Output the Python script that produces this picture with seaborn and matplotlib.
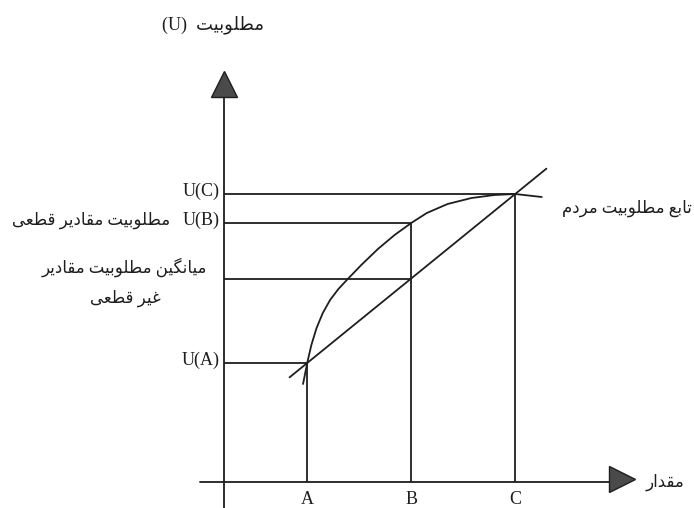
import matplotlib
matplotlib.use("Agg")
import matplotlib.pyplot as plt
import seaborn as sns

# --- data (quantity on x, utility on y) ---
points_x = [0.8, 1.8, 2.8]          # A, B, C
points_u = [1.19, 2.59, 2.88]       # U(A), U(B), U(C)
point_labels = ["A", "B", "C"]
u_labels = ["U(A)", "U(B)", "U(C)"]

# utility function
curve_x = [0.76, 0.80, 0.84, 0.89, 0.95, 1.02, 1.10, 1.19, 1.32, 1.48,
           1.64, 1.80, 1.95, 2.15, 2.38, 2.60, 2.80, 3.055]
curve_u = [0.98, 1.19, 1.37, 1.54, 1.69, 1.82, 1.93, 2.03, 2.17, 2.33,
           2.47, 2.59, 2.69, 2.78, 2.84, 2.87, 2.88, 2.85]

# straight chord between A and C, extended a bit on each side
chord_x = [0.63, 3.10]

axis_x_end = 3.73
axis_y_end = 3.86


# --- tiny Persian shaper (matplotlib has no complex text layout) ---
FORMS = {
    "ا": ("\uFE8D", "\uFE8E"),
    "د": ("\uFEA9", "\uFEAA"),
    "ر": ("\uFEAD", "\uFEAE"),
    "و": ("\uFEED", "\uFEEE"),
    "ب": ("\uFE8F", "\uFE90", "\uFE91", "\uFE92"),
    "ت": ("\uFE95", "\uFE96", "\uFE97", "\uFE98"),
    "ط": ("\uFEC1", "\uFEC2", "\uFEC3", "\uFEC4"),
    "ع": ("\uFEC9", "\uFECA", "\uFECB", "\uFECC"),
    "غ": ("\uFECD", "\uFECE", "\uFECF", "\uFED0"),
    "ق": ("\uFED5", "\uFED6", "\uFED7", "\uFED8"),
    "ل": ("\uFEDD", "\uFEDE", "\uFEDF", "\uFEE0"),
    "م": ("\uFEE1", "\uFEE2", "\uFEE3", "\uFEE4"),
    "ن": ("\uFEE5", "\uFEE6", "\uFEE7", "\uFEE8"),
    "ی": ("\uFBFC", "\uFBFD", "\uFBFE", "\uFBFF"),
    "گ": ("\uFB92", "\uFB93", "\uFB94", "\uFB95"),
}


def fa(s):
    out = []
    for i, ch in enumerate(s):
        if ch not in FORMS:
            out.append(ch)
            continue
        f = FORMS[ch]
        prev = s[i - 1] if i > 0 else ""
        nxt = s[i + 1] if i + 1 < len(s) else ""
        jp = prev in FORMS and len(FORMS[prev]) == 4
        jn = len(f) == 4 and nxt in FORMS
        if jp and jn:
            out.append(f[3])
        elif jp:
            out.append(f[1])
        elif jn:
            out.append(f[2])
        else:
            out.append(f[0])
    return "".join(reversed(out))


sns.set_style("white")
plt.rcParams["font.family"] = ["Liberation Serif", "DejaVu Sans"]

W, H = 694, 508
x0, y0 = 224, 482          # pixel position of the origin
sx, sy = 104, 100          # pixels per data unit

fig = plt.figure(figsize=(W / 100, H / 100), dpi=100)
ax = fig.add_axes([0, 0, 1, 1])
ax.set_xlim(-x0 / sx, (W - x0) / sx)
ax.set_ylim(-(H - y0) / sy, y0 / sy)
ax.axis("off")

ink = "#1e1e1e"
lw = 1.3

# axes
ax.plot([-0.23, axis_x_end], [0, 0], color=ink, lw=lw)
ax.plot([0, 0], [-0.3, axis_y_end], color=ink, lw=lw)
ax.plot(0, axis_y_end + 0.12, marker="^", ms=19, color="#4a4a4a", mec=ink, mew=1)
ax.plot(axis_x_end + 0.1, 0.03, marker=">", ms=19, color="#4a4a4a", mec=ink, mew=1)

# guide lines
ax.hlines(points_u, 0, points_x, color=ink, lw=lw)
ax.vlines(points_x, 0, points_u, color=ink, lw=lw)
mean_u = (points_u[0] + points_u[2]) / 2
ax.hlines(mean_u, 0, points_x[1], color=ink, lw=lw)

# curve and chord
slope = (points_u[2] - points_u[0]) / (points_x[2] - points_x[0])
chord_u = [points_u[0] + slope * (x - points_x[0]) for x in chord_x]
sns.lineplot(x=curve_x, y=curve_u, ax=ax, color=ink, lw=lw, sort=False, estimator=None)
sns.lineplot(x=chord_x, y=chord_u, ax=ax, color=ink, lw=lw, sort=False, estimator=None)

# labels
fs = 13
for x, lab in zip(points_x, point_labels):
    ax.text(x, -0.18, lab, ha="center", va="center", fontsize=fs, color=ink)
for u, lab in zip(points_u, u_labels):
    ax.text(-0.04, u + 0.03, lab, ha="right", va="center", fontsize=fs, color=ink)

pfs = 12
ax.text(-0.11, 4.57, "(U)  " + fa("مطلوبیت"), ha="center", va="center", fontsize=13, color=ink)
ax.text(-0.52, 2.62, fa("مطلوبیت مقادیر قطعی"), ha="right", va="center", fontsize=pfs, color=ink)
ax.text(-0.16, 2.15, fa("میانگین مطلوبیت مقادیر"), ha="right", va="center", fontsize=pfs, color=ink)
ax.text(-0.95, 1.84, fa("غیر قطعی"), ha="center", va="center", fontsize=pfs, color=ink)
ax.text(4.5, 2.74, fa("تابع مطلوبیت مردم"), ha="right", va="center", fontsize=pfs, color=ink)
ax.text(4.43, 0.0, fa("مقدار"), ha="right", va="center", fontsize=pfs, color=ink)

fig.savefig("out.png", dpi=100)
